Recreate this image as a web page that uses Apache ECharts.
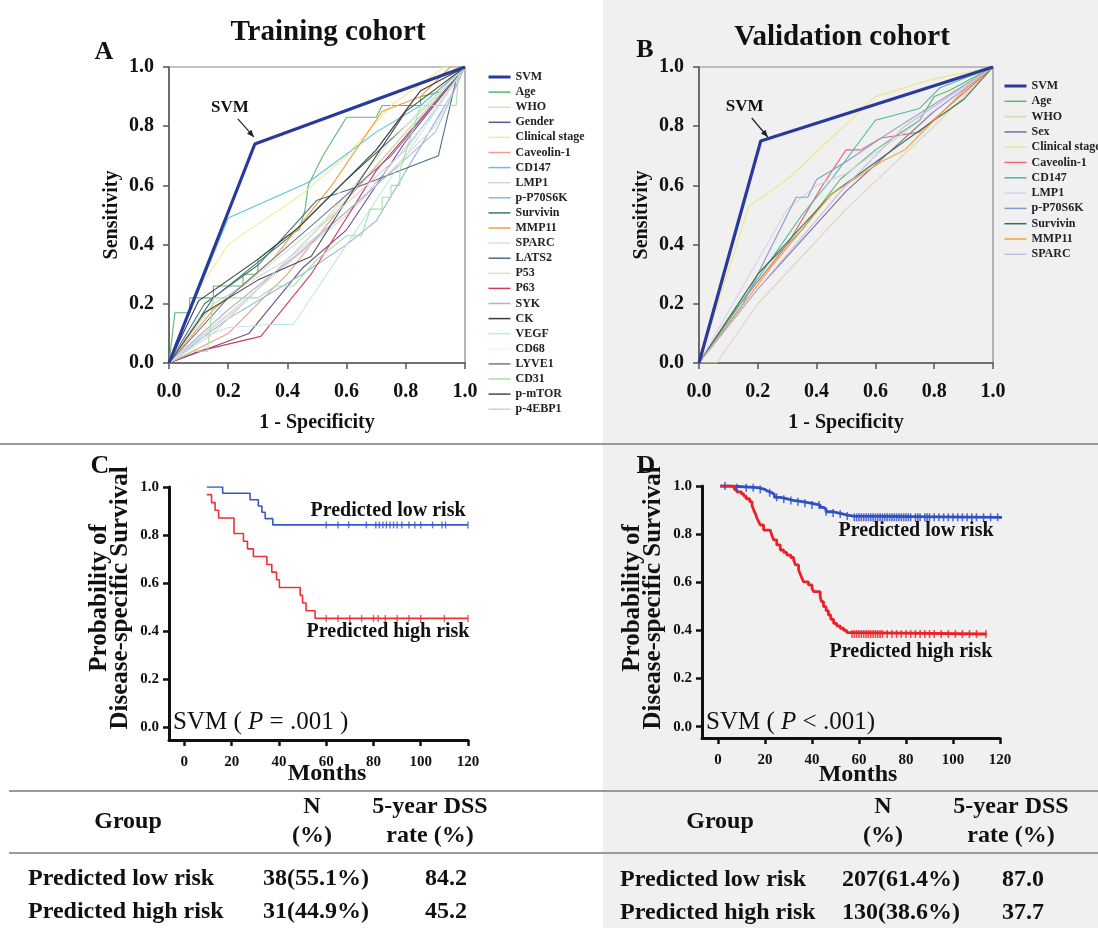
<!DOCTYPE html>
<html><head><meta charset="utf-8">
<script src="https://cdn.jsdelivr.net/npm/echarts@6/dist/echarts.min.js"></script>
<style>
html,body{margin:0;padding:0;background:#fff;}
#c{width:1098px;height:928px;background:linear-gradient(to right,#fff 0,#fff 603px,#f0f0f0 603px);}
</style></head><body><div id="c"></div>
<script>
// ---------------- DATA ----------------
const rocTrainNames = ['SVM','Age','WHO','Gender','Clinical stage','Caveolin-1','CD147','LMP1','p-P70S6K','Survivin','MMP11','SPARC','LATS2','P53','P63','SYK','CK','VEGF','CD68','LYVE1','CD31','p-mTOR','p-4EBP1'];
const rocTrainCurves = [
  [[0,0],[0.29,0.74],[1,1]],
  [[0,0],[0.02,0.17],[0.07,0.17],[0.07,0.22],[0.15,0.22],[0.15,0.26],[0.25,0.26],[0.25,0.3],[0.3,0.3],[0.3,0.35],[0.4,0.43],[0.44,0.45],[0.46,0.52],[0.47,0.6],[0.52,0.7],[0.6,0.83],[0.7,0.83],[0.72,0.87],[0.85,0.87],[0.85,0.9],[0.93,0.92],[1,1]],
  [[0,0],[0.25,0.2],[0.5,0.45],[0.75,0.75],[1,1]],
  [[0,0],[0.27,0.1],[0.45,0.32],[0.6,0.45],[0.8,0.75],[1,1]],
  [[0,0],[0.1,0.25],[0.2,0.4],[0.3,0.47],[0.45,0.57],[0.6,0.7],[0.75,0.87],[0.93,1],[1,1]],
  [[0,0],[0.2,0.1],[0.4,0.3],[0.6,0.55],[0.8,0.78],[1,1]],
  [[0,0],[0.2,0.49],[0.47,0.61],[0.7,0.78],[0.85,0.87],[1,1]],
  [[0,0],[0.15,0.2],[0.4,0.35],[0.65,0.55],[0.9,0.85],[1,1]],
  [[0,0],[0.2,0.15],[0.45,0.3],[0.6,0.4],[0.7,0.48],[0.95,0.9],[1,1]],
  [[0,0],[0.15,0.22],[0.4,0.42],[0.6,0.62],[0.8,0.8],[1,1]],
  [[0,0],[0.15,0.18],[0.35,0.35],[0.55,0.6],[0.72,0.85],[0.85,0.9],[0.95,1],[1,1]],
  [[0,0],[0.3,0.25],[0.6,0.5],[0.9,0.8],[1,1]],
  [[0,0],[0.12,0.2],[0.3,0.33],[0.5,0.55],[0.65,0.6],[0.91,0.7],[0.98,1],[1,1]],
  [[0,0],[0.1,0.15],[0.3,0.3],[0.55,0.5],[0.8,0.78],[1,1]],
  [[0,0],[0.1,0.04],[0.31,0.09],[0.48,0.3],[0.7,0.65],[1,1]],
  [[0,0],[0.2,0.18],[0.45,0.38],[0.7,0.6],[0.9,0.78],[1,1]],
  [[0,0],[0.1,0.21],[0.3,0.35],[0.44,0.46],[0.7,0.72],[0.85,0.92],[1,1]],
  [[0,0],[0.1,0.08],[0.2,0.12],[0.35,0.13],[0.42,0.13],[0.6,0.4],[0.8,0.7],[1,1]],
  [[0,0],[0.3,0.3],[0.7,0.7],[1,1]],
  [[0,0],[0.2,0.22],[0.5,0.48],[0.75,0.7],[1,1]],
  [[0,0],[0.08,0.04],[0.13,0.04],[0.15,0.22],[0.3,0.22],[0.36,0.26],[0.42,0.26],[0.5,0.35],[0.6,0.43],[0.65,0.43],[0.68,0.52],[0.72,0.52],[0.72,0.56],[0.75,0.56],[0.75,0.6],[0.78,0.6],[0.78,0.65],[0.85,0.87],[0.97,0.87],[0.98,1],[1,1]],
  [[0,0],[0.12,0.17],[0.3,0.28],[0.48,0.36],[0.6,0.55],[0.8,0.85],[1,1]],
  [[0,0],[0.15,0.1],[0.5,0.45],[0.8,0.72],[1,1]]
];
const rocValidNames = ['SVM','Age','WHO','Sex','Clinical stage','Caveolin-1','CD147','LMP1','p-P70S6K','Survivin','MMP11','SPARC'];
const rocValidCurves = [
  [[0,0],[0.21,0.75],[1,1]],
  [[0,0],[0.2,0.3],[0.35,0.45],[0.48,0.62],[0.6,0.72],[0.75,0.82],[0.8,0.9],[0.85,0.92],[1,1]],
  [[0,0],[0.06,0],[0.2,0.2],[0.5,0.52],[0.8,0.8],[1,1]],
  [[0,0],[0.2,0.25],[0.5,0.58],[0.8,0.85],[1,1]],
  [[0,0],[0.17,0.53],[0.3,0.62],[0.6,0.9],[0.8,0.96],[1,1]],
  [[0,0],[0.1,0.15],[0.3,0.4],[0.42,0.6],[0.5,0.72],[0.55,0.72],[0.62,0.76],[0.75,0.78],[1,1]],
  [[0,0],[0.12,0.17],[0.35,0.5],[0.45,0.62],[0.6,0.82],[0.75,0.86],[0.82,0.93],[1,1]],
  [[0,0],[0.3,0.52],[0.4,0.6],[0.5,0.64],[0.7,0.78],[1,1]],
  [[0,0],[0.15,0.2],[0.33,0.56],[0.37,0.56],[0.4,0.62],[0.5,0.68],[0.65,0.78],[1,1]],
  [[0,0],[0.2,0.3],[0.45,0.57],[0.7,0.75],[0.9,0.89],[1,1]],
  [[0,0],[0.25,0.33],[0.45,0.57],[0.62,0.68],[0.7,0.72],[0.9,0.92],[1,1]],
  [[0,0],[0.2,0.25],[0.5,0.6],[0.7,0.8],[1,1]]
];
const rocTicks = [0, 0.2, 0.4, 0.6, 0.8, 1.0];
const kmMonthTicks = [0, 20, 40, 60, 80, 100, 120];
const kmProbTicks = [0, 0.2, 0.4, 0.6, 0.8, 1.0];

// KM curves: [month, survival after event]
const kmTrainLow = [[9.5,1.0],[16.2,0.974],[27.8,0.947],[31.3,0.921],[32.8,0.895],[34.2,0.868],[37.4,0.842],[120,0.842]];
const kmTrainHigh = [[9.5,0.968],[11.5,0.935],[13,0.903],[14.5,0.871],[21,0.806],[25,0.774],[26.7,0.742],[29.2,0.71],[34.9,0.677],[37,0.645],[39,0.613],[40.2,0.581],[49,0.548],[50,0.516],[51.5,0.484],[55.3,0.452],[120,0.452]];
const kmTrainLowCensor = [60,65,69.5,77,81,82.5,84,85.5,87,88.5,90,92,95,97.5,100,105,109,110.5,120];
const kmTrainHighCensor = [60,65,70,75,80,82,85,90,95,100,110,120];
const kmValidLow = [[1,1.0],[5,0.993],[17,0.986],[20,0.979],[21,0.972],[23,0.965],[24,0.953],[26.5,0.945],[30,0.94],[32,0.935],[36,0.928],[40,0.921],[43.5,0.911],[45,0.903],[46,0.893],[49,0.888],[51,0.884],[53,0.879],[55,0.875],[57.7,0.87],[121,0.87]];
const kmValidHigh = [[1,1.0],[6,0.994],[7,0.985],[8,0.976],[10,0.967],[11,0.958],[12,0.947],[13.5,0.935],[14.5,0.918],[15.2,0.9],[16,0.883],[16.6,0.866],[17.3,0.852],[18,0.838],[19.4,0.817],[22.2,0.81],[23,0.793],[23.7,0.776],[25,0.755],[26.5,0.734],[28,0.724],[29.3,0.713],[31,0.703],[32.2,0.693],[33,0.672],[34.3,0.651],[35,0.634],[35.7,0.618],[36.4,0.602],[38.5,0.589],[40,0.575],[40.7,0.561],[43.5,0.54],[44,0.52],[44.9,0.499],[46,0.482],[47,0.464],[48,0.446],[49.2,0.429],[50.5,0.419],[52,0.409],[53.5,0.4],[54.8,0.391],[56.2,0.385],[114.3,0.385]];
const kmValidLowCensor = [3,8,12,15,18,22,25,28,31,34,37,40,43,46,49,52,55,58,59,60,61,62,63,64,65,66,67,68,69,70,71,72,73,74,75,76,77,78,79,80,81,82,84,85,86,88,89,90,92,94,96,98,100,102,104,106,108,110,113,116,119,121];
const kmValidHighCensor = [57,58,59,60,61,62,63,64,65,66,67,68,69,70,72,74,76,78,80,82,84,86,88,90,92,95,98,101,104,107,110,114];

const tableTrainGroup = ['Predicted low risk','Predicted high risk'];
const tableTrainN = ['38(55.1%)','31(44.9%)'];
const tableTrainDSS = ['84.2','45.2'];
const tableValidGroup = ['Predicted low risk','Predicted high risk'];
const tableValidN = ['207(61.4%)','130(38.6%)'];
const tableValidDSS = ['87.0','37.7'];

// ---------------- STYLE ----------------
const FF = '"Liberation Serif","Times New Roman",serif';
const trainColors = ['#2a3a9a','#5cb86a','#e2d8bc','#6b4d8c','#efec94','#f09c8c','#5cc4d4','#cdd4e6','#8fb6da','#3c7a5a','#f0a23c','#dcdde8','#4a6e8e','#c8eebc','#d23c5e','#b4b4c4','#3a3a42','#c0e8e8','#f4f4f4','#7a70a2','#a2e2a2','#4e4a48','#d2d2d6'];
const validColors = ['#2a3a9a','#5cb86a','#dbd4b8','#7a6a9a','#ece686','#e86a6a','#48b8a8','#d2d2ec','#8a9ac8','#3c6e54','#f0a040','#c4bae6'];

const chart = echarts.init(document.getElementById('c'), null, {renderer:'canvas'});

function rocXAxis(gi){
  return {gridIndex:gi,type:'value',min:0,max:1,interval:0.2,
    name:'1 - Specificity',nameLocation:'middle',nameGap:50,
    nameTextStyle:{fontFamily:FF,fontWeight:'bold',fontSize:20,color:'#111'},
    axisLine:{show:true,lineStyle:{color:'#555',width:1.5}},
    axisTick:{show:true,length:6,lineStyle:{color:'#555',width:1.5}},
    axisLabel:{fontFamily:FF,fontWeight:'bold',fontSize:20,color:'#111',margin:19,formatter:v=>v.toFixed(1)},
    splitLine:{show:false}};
}
function rocYAxis(gi){
  return {gridIndex:gi,type:'value',min:0,max:1,interval:0.2,
    name:'Sensitivity',nameLocation:'middle',nameGap:47,
    nameTextStyle:{fontFamily:FF,fontWeight:'bold',fontSize:20,color:'#111'},
    axisLine:{show:true,lineStyle:{color:'#555',width:1.5}},
    axisTick:{show:true,length:6,lineStyle:{color:'#555',width:1.5}},
    axisLabel:{fontFamily:FF,fontWeight:'bold',fontSize:20,color:'#111',margin:15,formatter:v=>v.toFixed(1)},
    splitLine:{show:false}};
}
function kmXAxis(gi,min){
  return {gridIndex:gi,type:'value',min:min,max:120,
    axisLine:{show:true,onZero:false,lineStyle:{color:'#111',width:3}},
    axisTick:{show:true,length:6,customValues:kmMonthTicks,lineStyle:{color:'#111',width:2.5}},
    axisLabel:{fontFamily:FF,fontWeight:'bold',fontSize:15,color:'#111',margin:15,customValues:kmMonthTicks,formatter:v=>String(v)},
    splitLine:{show:false}};
}
function kmYAxis(gi,min){
  return {gridIndex:gi,type:'value',min:min,max:1,
    axisLine:{show:true,onZero:false,lineStyle:{color:'#111',width:3}},
    axisTick:{show:true,length:6,customValues:kmProbTicks,lineStyle:{color:'#111',width:2.5}},
    axisLabel:{fontFamily:FF,fontWeight:'bold',fontSize:15,color:'#111',margin:10,customValues:kmProbTicks,formatter:v=>v.toFixed(1)},
    splitLine:{show:false}};
}

const series = [];
rocTrainNames.forEach((n,i)=>{
  series.push({type:'line',name:n,xAxisIndex:0,yAxisIndex:0,data:rocTrainCurves[i],symbol:'none',
    lineStyle:{color:trainColors[i],width:i===0?3.2:1.1},itemStyle:{color:trainColors[i]},z:i===0?5:2,silent:true});
});
rocValidNames.forEach((n,i)=>{
  series.push({type:'line',name:n+'\u200b',xAxisIndex:1,yAxisIndex:1,data:rocValidCurves[i],symbol:'none',
    lineStyle:{color:validColors[i],width:i===0?3.2:1.1},itemStyle:{color:validColors[i]},z:i===0?5:2,silent:true});
});
function survAt(curve,t){let s=curve[0][1];for(const p of curve){if(p[0]<=t)s=p[1];}return s;}
function kmSeries(gi,curve,censor,color,w,tick){
  series.push({type:'line',name:'km'+gi+color,xAxisIndex:gi,yAxisIndex:gi,data:curve,step:'end',symbol:'none',
    lineStyle:{color:color,width:w},z:3,silent:true});
  series.push({type:'scatter',name:'cs'+gi+color,xAxisIndex:gi,yAxisIndex:gi,data:censor.map(t=>[t,survAt(curve,t)]),
    symbol:'rect',symbolSize:tick,itemStyle:{color:color},z:4,silent:true});
}
kmSeries(2,kmTrainLow,kmTrainLowCensor,'#3a55c8',1.6,[1.4,7]);
kmSeries(2,kmTrainHigh,kmTrainHighCensor,'#ee3038',1.6,[1.4,7]);
kmSeries(3,kmValidLow,kmValidLowCensor,'#2f4fc4',2.8,[1.6,8]);
kmSeries(3,kmValidHigh,kmValidHighCensor,'#ea2228',2.8,[1.6,8]);

const legendText = {fontFamily:FF,fontWeight:'bold',fontSize:12,lineHeight:12,color:'#222'};
function legendData(names,colors,suffix){
  return names.map((n,i)=>({name:n+suffix,itemStyle:{opacity:0},lineStyle:{color:colors[i],width:i===0?3:1.5}}));
}
const option = {
  animation:false,
  backgroundColor:'transparent',
  grid:[
    {left:169,top:67,width:296,height:296,show:true,borderColor:'#888',borderWidth:1.2,backgroundColor:'transparent'},
    {left:699,top:67,width:294,height:296,show:true,borderColor:'#888',borderWidth:1.2,backgroundColor:'transparent'},
    {left:169,top:487,width:299,height:253},
    {left:702,top:486,width:298,height:252}
  ],
  xAxis:[rocXAxis(0),rocXAxis(1),kmXAxis(2,-6.5),kmXAxis(3,-6.8)],
  yAxis:[rocYAxis(0),rocYAxis(1),kmYAxis(2,-0.055),kmYAxis(3,-0.047)],
  legend:[
    {data:legendData(rocTrainNames,trainColors,''),left:487,top:71,orient:'vertical',itemWidth:22,itemHeight:10,itemGap:3.1,padding:0,
      selectedMode:false,textStyle:legendText,itemStyle:{opacity:0}},
    {data:legendData(rocValidNames,validColors,'\u200b'),left:1003,top:80,orient:'vertical',itemWidth:22,itemHeight:10,itemGap:3.3,padding:0,
      selectedMode:false,textStyle:legendText,itemStyle:{opacity:0},formatter:n=>n.replace('\u200b','')}
  ],
  series:series
};
chart.setOption(option);

// ---------------- GRAPHIC (text, separators, annotations) ----------------
const G = [];
function txt(x,y,text,size,opts){
  opts = opts||{};
  G.push({type:'text',x:x,y:y,rotation:opts.rot||0,z:50,
    style:{text:text,fontFamily:FF,fontSize:size,fontWeight:opts.w||'bold',fontStyle:opts.i||'normal',
      fill:opts.fill||'#111',align:opts.align||'center',verticalAlign:'middle',lineHeight:opts.lh||undefined,rich:opts.rich}});
}
function hline(y,x1,x2){G.push({type:'line',z:40,shape:{x1:x1,y1:y,x2:x2,y2:y},style:{stroke:'#9a9a9a',lineWidth:2.2}});}
hline(444,0,1098); hline(791,9,1098); hline(853,9,1098);

txt(328,33,'Training cohort',29);
txt(842,38,'Validation cohort',29);
txt(104,52,'A',26); txt(645,50,'B',26); txt(100,466,'C',26); txt(646,466,'D',26);

// SVM annotations
function annot(gi,pt,dTxt,a1,a2){
  const p = chart.convertToPixel({gridIndex:gi},pt);
  txt(p[0]+dTxt[0],p[1]+dTxt[1],'SVM',17,{w:'bold'});
  const x1=p[0]+a1[0],y1=p[1]+a1[1],x2=p[0]+a2[0],y2=p[1]+a2[1];
  G.push({type:'line',z:50,shape:{x1:x1,y1:y1,x2:x2,y2:y2},style:{stroke:'#222',lineWidth:1.2}});
  const ang=Math.atan2(y2-y1,x2-x1),L=7,W=3;
  const bx=x2-L*Math.cos(ang),by=y2-L*Math.sin(ang);
  G.push({type:'polygon',z:50,shape:{points:[[x2,y2],[bx+W*Math.sin(ang),by-W*Math.cos(ang)],[bx-W*Math.sin(ang),by+W*Math.cos(ang)]]},style:{fill:'#222'}});
}
annot(0,rocTrainCurves[0][1],[-25,-36],[-17,-25],[-1,-7]);
annot(1,rocValidCurves[0][1],[-16,-34],[-9,-23],[7,-4]);

// KM texts
txt(388,511,'Predicted low risk',20);
txt(388,632,'Predicted high risk',20);
txt(916,531,'Predicted low risk',20);
txt(911,652,'Predicted high risk',20);
const richN = {n:{fontFamily:FF,fontSize:25,fill:'#111'},i:{fontFamily:FF,fontSize:25,fontStyle:'italic',fill:'#111'}};
txt(173,722,'{n|SVM ( }{i|P}{n| = .001 )}',25,{align:'left',w:'normal',rich:richN});
txt(706,722,'{n|SVM ( }{i|P}{n| < .001)}',25,{align:'left',w:'normal',rich:richN});
txt(327,774,'Months',24);
txt(858,775,'Months',24);
txt(110,598,'Probability of\nDisease-specific Survival',25,{rot:Math.PI/2,lh:21});
txt(643,598,'Probability of\nDisease-specific Survival',25,{rot:Math.PI/2,lh:21});

// Tables
const TS = 24;
txt(128,822,'Group',TS); txt(312,821,'N\n(%)',TS,{lh:29}); txt(430,821,'5-year DSS\nrate (%)',TS,{lh:29});
txt(720,822,'Group',TS); txt(883,821,'N\n(%)',TS,{lh:29}); txt(1011,821,'5-year DSS\nrate (%)',TS,{lh:29});
const rowY = [879,912];
tableTrainGroup.forEach((g,i)=>{
  txt(28,rowY[i],g,TS,{align:'left'});
  txt(316,rowY[i],tableTrainN[i],TS);
  txt(446,rowY[i],tableTrainDSS[i],TS);
});
tableValidGroup.forEach((g,i)=>{
  txt(620,rowY[i]+1,g,TS,{align:'left'});
  txt(901,rowY[i]+1,tableValidN[i],TS);
  txt(1023,rowY[i]+1,tableValidDSS[i],TS);
});

chart.setOption({graphic:{elements:G}});
</script></body></html>
